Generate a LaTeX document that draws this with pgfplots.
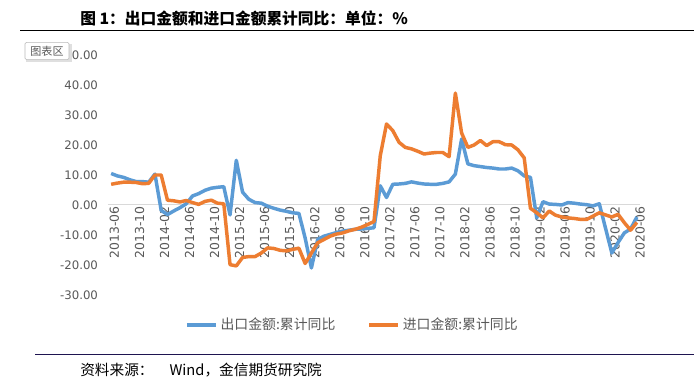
\documentclass[border=0pt]{standalone}
\usepackage{pgfplots}
\pgfplotsset{compat=1.18}
\usepackage{fontspec}
\setmainfont{DejaVu Sans}
\newfontfamily\cjk{Noto Sans CJK SC}
\definecolor{expblue}{HTML}{5B9BD5}
\definecolor{imporange}{HTML}{ED7D31}
\definecolor{txtgray}{HTML}{595959}
\definecolor{zerogray}{HTML}{D9D9D9}
\definecolor{navyrule}{HTML}{1E1450}
\begin{document}
\begin{tikzpicture}
\useasboundingbox (0,0) rectangle (520.5pt,-293.25pt);
\fill[white] (0,0) rectangle (520.5pt,-293.25pt);
\begin{axis}[
  at={(81pt,-41.25pt)}, anchor=north west,
  scale only axis, width=399pt, height=180pt,
  xmin=-0.5, xmax=84.5, ymin=-30, ymax=50,
  axis x line=middle, axis y line=left,
  x axis line style={draw=zerogray, line width=0.75pt, -},
  y axis line style={draw=none},
  major tick length=0pt,
  xtick={0,4,...,84},
  xticklabels={2013-06,2013-10,2014-02,2014-06,2014-10,2015-02,2015-06,2015-10,2016-02,2016-06,2016-10,2017-02,2017-06,2017-10,2018-02,2018-06,2018-10,2019-02,2019-06,2019-10,2020-02,2020-06},
  xticklabel style={rotate=90, anchor=east, font=\fontsize{9.3}{10}\selectfont, text=txtgray, inner sep=1pt, yshift=-2.5pt},
  ytick={-30,-20,...,50},
  yticklabels={-30.00,-20.00,-10.00,0.00,10.00,20.00,30.00,40.00,50.00},
  yticklabel style={font=\fontsize{8.8}{10}\selectfont, text=txtgray, xshift=-4pt},
  legend style={at={(0.46,-0.125)}, anchor=center, draw=none, fill=none,
    legend columns=2, font=\cjk\fontsize{10.4}{12}\selectfont, text=txtgray,
    /tikz/every even column/.append style={column sep=22pt}},
  legend image code/.code={\draw[#1] (0pt,0pt) -- (22pt,0pt);},
]
\addplot[expblue, line width=2.6pt, line join=round] coordinates {
(0,10.5)(1,9.7)(2,9.2)(3,8.4)(4,7.8)(5,7.8)(6,7.6)(7,10.3)(8,-1.8)(9,-3.2)
(10,-2.0)(11,-0.9)(12,0.4)(13,3.0)(14,3.8)(15,4.9)(16,5.6)(17,5.9)(18,6.1)(19,-3.3)
(20,14.9)(21,4.3)(22,1.9)(23,0.8)(24,0.6)(25,-0.4)(26,-1.1)(27,-1.7)(28,-2.1)(29,-2.6)
(30,-2.8)(31,-11.0)(32,-21.0)(33,-11.5)(34,-10.4)(35,-9.8)(36,-9.2)(37,-8.7)(38,-8.4)(39,-8.1)
(40,-8.0)(41,-7.8)(42,-7.6)(43,6.4)(44,2.5)(45,6.9)(46,7.0)(47,7.2)(48,7.7)(49,7.3)
(50,7.0)(51,6.9)(52,6.9)(53,7.2)(54,7.7)(55,10.3)(56,22.0)(57,13.7)(58,13.1)(59,12.8)
(60,12.5)(61,12.3)(62,12.0)(63,12.0)(64,12.3)(65,11.4)(66,9.7)(67,9.2)(68,-4.3)(69,1.1)
(70,0.3)(71,0.2)(72,0.0)(73,0.8)(74,0.6)(75,0.3)(76,0.1)(77,-0.3)(78,0.4)
(80,-16.0)(81,-12.5)(82,-9.3)(83,-8.0)(84,-4.0)
};
\addlegendentry{出口金额:累计同比}
\addplot[imporange, line width=2.6pt, line join=round] coordinates {
(0,6.9)(1,7.3)(2,7.6)(3,7.6)(4,7.5)(5,7.1)(6,7.2)(7,10.0)(8,10.0)(9,1.6)
(10,1.4)(11,1.0)(12,1.5)(13,0.8)(14,0.2)(15,1.2)(16,1.6)(17,0.6)(18,0.4)(19,-19.9)
(20,-20.3)(21,-17.5)(22,-17.2)(23,-17.2)(24,-16.0)(25,-14.3)(26,-14.5)(27,-15.1)(28,-15.3)(29,-14.8)
(30,-14.4)(31,-19.5)(32,-16.0)(33,-12.6)(34,-11.5)(35,-10.4)(36,-9.7)(37,-9.3)(38,-8.6)(39,-8.1)
(40,-7.4)(41,-6.5)(42,-5.5)(43,16.4)(44,27.0)(45,24.8)(46,20.9)(47,19.2)(48,18.7)(49,17.9)
(50,17.0)(51,17.3)(52,17.5)(53,17.5)(54,16.1)(55,37.3)(56,24.0)(57,19.2)(58,20.0)(59,21.5)
(60,19.8)(61,21.1)(62,21.1)(63,20.1)(64,20.0)(65,18.4)(66,15.7)(67,-1.1)(68,-2.6)(69,-4.3)
(70,-2.0)(71,-3.4)(72,-4.0)(73,-4.3)(74,-4.5)(75,-4.8)(76,-4.8)(77,-3.7)(78,-2.6)
(80,-4.0)(81,-3.1)(82,-5.9)(83,-8.4)(84,-5.8)
};
\addlegendentry{进口金额:累计同比}
\end{axis}
\begin{scope}[x=0.75pt,y=-0.75pt]
\node[anchor=west, font=\cjk\bfseries\fontsize{11.8}{14}\selectfont, inner sep=0pt] at (80,18) {图 1：出口金额和进口金额累计同比：单位：\%};
\draw[black, line width=0.75pt] (20,31) -- (694,31);
\draw[navyrule, line width=0.75pt] (35,355) -- (694,355);
\node[anchor=west, font=\cjk\fontsize{11}{13}\selectfont, inner sep=0pt] at (80,370) {资料来源：\hspace{12pt}Wind，金信期货研究院};
\fill[gray!25] (26,44) rectangle (72,62);
\node[draw=gray!55, fill=white, rounded corners=1pt, inner sep=0pt, font=\cjk\fontsize{8.3}{10}\selectfont, text=txtgray, minimum width=33pt, minimum height=13pt] at (47,51) {图表区};
\end{scope}
\end{tikzpicture}
\end{document}
